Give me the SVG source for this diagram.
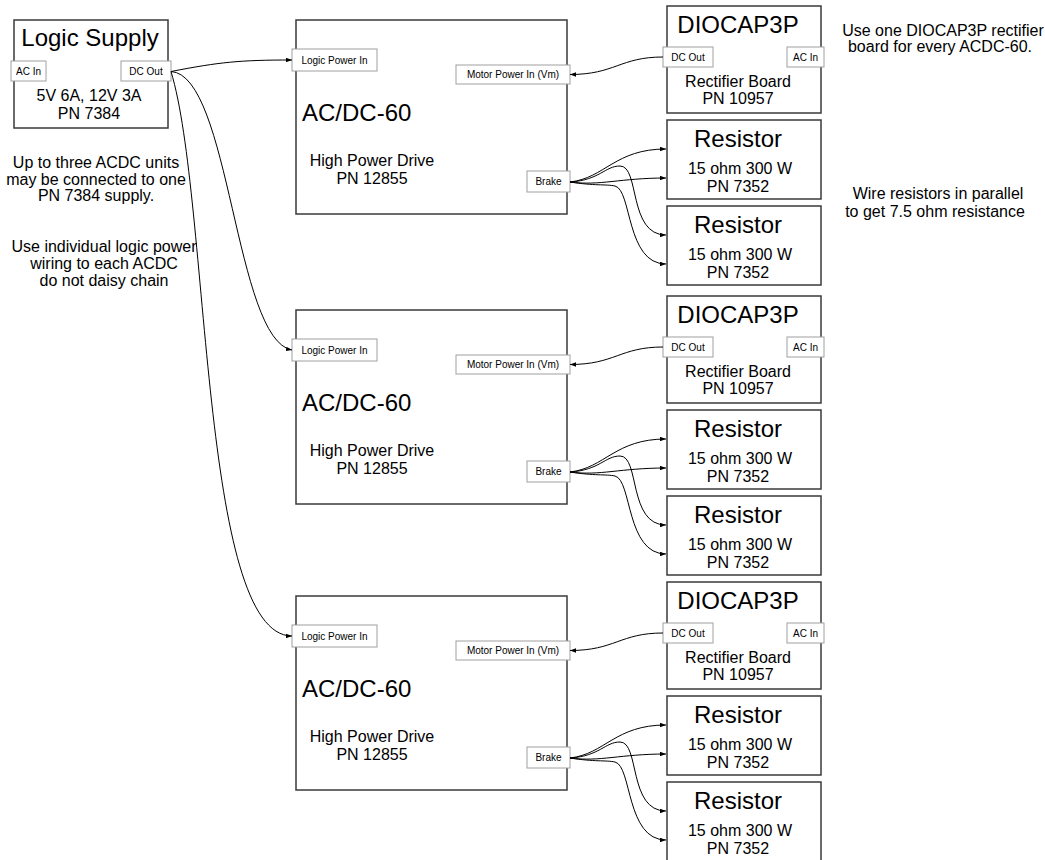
<svg xmlns="http://www.w3.org/2000/svg" width="1045" height="860" viewBox="0 0 1045 860">
<style>
  .node { fill:#fff; stroke:#3a3a3a; stroke-width:1.5; }
  .port { fill:#fff; stroke:#a0a0a0; stroke-width:1; }
  text { font-family:"Liberation Sans", Arial, sans-serif; fill:#000; }
  .big { font-size:24px; }
  .mid { font-size:16px; text-anchor:middle; }
  .sm { font-size:10px; text-anchor:middle; }
  .wire { fill:none; stroke:#000; stroke-width:1; marker-end:url(#arr); }
</style>
<defs>
  <marker id="arr" viewBox="0 0 8 6" refX="8" refY="3" markerWidth="6" markerHeight="4.5" orient="auto" markerUnits="userSpaceOnUse">
    <path d="M0,0 L8,3 L0,6 z" fill="#000"/>
  </marker>
</defs>
<rect width="1045" height="860" fill="#fff"/>

<g id="logic-supply">
  <rect class="node" x="14" y="20" width="154" height="108"/>
  <text class="big" x="90" y="46" text-anchor="middle">Logic Supply</text>
  <rect class="port" x="11" y="61" width="35" height="20"/>
  <text class="sm" x="28.5" y="74.5">AC In</text>
  <rect class="port" x="121" y="61" width="50" height="20"/>
  <text class="sm" x="146" y="74.5">DC Out</text>
  <text class="mid" x="89" y="101">5V 6A, 12V 3A</text>
  <text class="mid" x="89" y="119">PN 7384</text>
</g>

<g id="note-supply">
  <text class="mid" x="96" y="168">Up to three ACDC units</text>
  <text class="mid" x="96" y="184.5">may be connected to one</text>
  <text class="mid" x="96" y="200.5">PN 7384 supply.</text>
</g>
<g id="note-wiring">
  <text class="mid" x="104" y="252">Use individual logic power</text>
  <text class="mid" x="104" y="269">wiring to each ACDC</text>
  <text class="mid" x="104" y="286">do not daisy chain</text>
</g>
<g id="note-diocap">
  <text class="mid" x="943" y="36">Use one DIOCAP3P rectifier</text>
  <text class="mid" x="940" y="52">board for every ACDC-60.</text>
</g>
<g id="note-resistors">
  <text class="mid" x="938" y="199">Wire resistors in parallel</text>
  <text class="mid" x="935" y="216.5">to get 7.5 ohm resistance</text>
</g>

<!-- Section 1 -->
<g id="acdc1">
  <rect class="node" x="296" y="20" width="271" height="194"/>
  <text class="big" x="302" y="121">AC/DC-60</text>
  <text class="mid" x="372" y="166">High Power Drive</text>
  <text class="mid" x="372" y="183.5">PN 12855</text>
  <rect class="port" x="292" y="49" width="85" height="22"/>
  <text class="sm" x="334.5" y="63.5">Logic Power In</text>
  <rect class="port" x="456" y="65" width="114" height="19"/>
  <text class="sm" x="513" y="78">Motor Power In (Vm)</text>
  <rect class="port" x="527" y="171" width="43" height="21"/>
  <text class="sm" x="548.5" y="185">Brake</text>
</g>
<g id="diocap1">
  <rect class="node" x="667" y="6" width="154" height="107"/>
  <text class="big" x="738" y="33" text-anchor="middle">DIOCAP3P</text>
  <rect class="port" x="663" y="47" width="50" height="20"/>
  <text class="sm" x="688" y="60.5">DC Out</text>
  <rect class="port" x="787" y="47" width="37" height="20"/>
  <text class="sm" x="805.5" y="60.5">AC In</text>
  <text class="mid" x="738" y="87">Rectifier Board</text>
  <text class="mid" x="738" y="104">PN 10957</text>
</g>
<g id="resistor1a">
  <rect class="node" x="667" y="120" width="154" height="79"/>
  <text class="big" x="738" y="147" text-anchor="middle">Resistor</text>
  <text class="mid" x="740" y="174">15 ohm 300 W</text>
  <text class="mid" x="738" y="191.5">PN 7352</text>
</g>
<g id="resistor1b">
  <rect class="node" x="667" y="206" width="154" height="79"/>
  <text class="big" x="738" y="232.5" text-anchor="middle">Resistor</text>
  <text class="mid" x="740" y="260">15 ohm 300 W</text>
  <text class="mid" x="738" y="278">PN 7352</text>
</g>

<!-- Section 2 -->
<g transform="translate(0,290)">
  <g id="acdc2">
    <rect class="node" x="296" y="20" width="271" height="194"/>
    <text class="big" x="302" y="121">AC/DC-60</text>
    <text class="mid" x="372" y="166">High Power Drive</text>
    <text class="mid" x="372" y="183.5">PN 12855</text>
    <rect class="port" x="292" y="49" width="85" height="22"/>
    <text class="sm" x="334.5" y="63.5">Logic Power In</text>
    <rect class="port" x="456" y="65" width="114" height="19"/>
    <text class="sm" x="513" y="78">Motor Power In (Vm)</text>
    <rect class="port" x="527" y="171" width="43" height="21"/>
    <text class="sm" x="548.5" y="185">Brake</text>
  </g>
  <g id="diocap2">
    <rect class="node" x="667" y="6" width="154" height="107"/>
    <text class="big" x="738" y="33" text-anchor="middle">DIOCAP3P</text>
    <rect class="port" x="663" y="47" width="50" height="20"/>
    <text class="sm" x="688" y="60.5">DC Out</text>
    <rect class="port" x="787" y="47" width="37" height="20"/>
    <text class="sm" x="805.5" y="60.5">AC In</text>
    <text class="mid" x="738" y="87">Rectifier Board</text>
    <text class="mid" x="738" y="104">PN 10957</text>
  </g>
  <g id="resistor2a">
    <rect class="node" x="667" y="120" width="154" height="79"/>
    <text class="big" x="738" y="147" text-anchor="middle">Resistor</text>
    <text class="mid" x="740" y="174">15 ohm 300 W</text>
    <text class="mid" x="738" y="191.5">PN 7352</text>
  </g>
  <g id="resistor2b">
    <rect class="node" x="667" y="206" width="154" height="79"/>
    <text class="big" x="738" y="232.5" text-anchor="middle">Resistor</text>
    <text class="mid" x="740" y="260">15 ohm 300 W</text>
    <text class="mid" x="738" y="278">PN 7352</text>
  </g>
</g>

<!-- Section 3 -->
<g transform="translate(0,576)">
  <g id="acdc3">
    <rect class="node" x="296" y="20" width="271" height="194"/>
    <text class="big" x="302" y="121">AC/DC-60</text>
    <text class="mid" x="372" y="166">High Power Drive</text>
    <text class="mid" x="372" y="183.5">PN 12855</text>
    <rect class="port" x="292" y="49" width="85" height="22"/>
    <text class="sm" x="334.5" y="63.5">Logic Power In</text>
    <rect class="port" x="456" y="65" width="114" height="19"/>
    <text class="sm" x="513" y="78">Motor Power In (Vm)</text>
    <rect class="port" x="527" y="171" width="43" height="21"/>
    <text class="sm" x="548.5" y="185">Brake</text>
  </g>
  <g id="diocap3">
    <rect class="node" x="667" y="6" width="154" height="107"/>
    <text class="big" x="738" y="33" text-anchor="middle">DIOCAP3P</text>
    <rect class="port" x="663" y="47" width="50" height="20"/>
    <text class="sm" x="688" y="60.5">DC Out</text>
    <rect class="port" x="787" y="47" width="37" height="20"/>
    <text class="sm" x="805.5" y="60.5">AC In</text>
    <text class="mid" x="738" y="87">Rectifier Board</text>
    <text class="mid" x="738" y="104">PN 10957</text>
  </g>
  <g id="resistor3a">
    <rect class="node" x="667" y="120" width="154" height="79"/>
    <text class="big" x="738" y="147" text-anchor="middle">Resistor</text>
    <text class="mid" x="740" y="174">15 ohm 300 W</text>
    <text class="mid" x="738" y="191.5">PN 7352</text>
  </g>
  <g id="resistor3b">
    <rect class="node" x="667" y="206" width="154" height="79"/>
    <text class="big" x="738" y="232.5" text-anchor="middle">Resistor</text>
    <text class="mid" x="740" y="260">15 ohm 300 W</text>
    <text class="mid" x="738" y="278">PN 7352</text>
  </g>
</g>

<g id="connectors">
  <path class="wire" d="M171,71.5 C220,62 240,60 292,60"/>
  <path class="wire" d="M171,71.5 C230,75 235,340 292,350"/>
  <path class="wire" d="M171,71.5 C210,200 200,636 292,636"/>
  <g id="section1-wires">
    <path class="wire" d="M663,57 C620,57 615,74.5 570,74.5"/>
    <path class="wire" d="M570,182 C605,178 615,149 666,149"/>
    <path class="wire" d="M570,182 C600,186 620,178 666,178"/>
    <path class="wire" d="M570,182 C600,180 605,166 620,166 C640,166 628,235 666,235"/>
    <path class="wire" d="M570,182 C595,186 605,184 615,186 C632,190 626,264 666,264"/>
  </g>
  <g id="section2-wires" transform="translate(0,290)">
    <path class="wire" d="M663,57 C620,57 615,74.5 570,74.5"/>
    <path class="wire" d="M570,182 C605,178 615,149 666,149"/>
    <path class="wire" d="M570,182 C600,186 620,178 666,178"/>
    <path class="wire" d="M570,182 C600,180 605,166 620,166 C640,166 628,235 666,235"/>
    <path class="wire" d="M570,182 C595,186 605,184 615,186 C632,190 626,264 666,264"/>
  </g>
  <g id="section3-wires" transform="translate(0,576)">
    <path class="wire" d="M663,57 C620,57 615,74.5 570,74.5"/>
    <path class="wire" d="M570,182 C605,178 615,149 666,149"/>
    <path class="wire" d="M570,182 C600,186 620,178 666,178"/>
    <path class="wire" d="M570,182 C600,180 605,166 620,166 C640,166 628,235 666,235"/>
    <path class="wire" d="M570,182 C595,186 605,184 615,186 C632,190 626,264 666,264"/>
  </g>
</g>
</svg>
